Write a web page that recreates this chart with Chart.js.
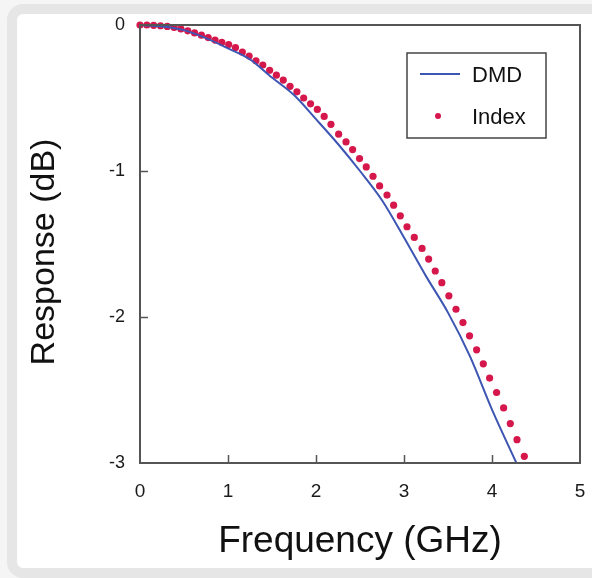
<!DOCTYPE html>
<html>
<head>
<meta charset="utf-8">
<script src="https://cdn.jsdelivr.net/npm/chart.js@4.4.0/dist/chart.umd.min.js"></script>
<style>
html, body { margin:0; padding:0; width:592px; height:578px; overflow:hidden; background:#f5f5f5; }
.card { position:absolute; left:7px; top:4px; width:600px; height:554px; border:10px solid #e6e6e6; border-radius:16px; background:#fff; }
#wrap { position:absolute; left:0; top:0; width:592px; height:578px; }
</style>
</head>
<body>
<div class="card"></div>
<div id="wrap"><canvas id="myChart" width="592" height="578"></canvas></div>
<script>
// ---------------------------------------------------------
// data
const dmdFreq = [0, 0.25, 0.5, 0.75, 1.0, 1.25, 1.5, 1.75, 2.0, 2.25, 2.5, 2.75, 3.0, 3.25, 3.5, 3.75, 4.0, 4.277]
const dmdResp = [0, -0.01, -0.035, -0.09, -0.16, -0.235, -0.36, -0.48, -0.645, -0.815, -1.0, -1.2, -1.455, -1.72, -1.97, -2.27, -2.635, -3.0]

const indexFreq = [0, 0.078, 0.155, 0.233, 0.31, 0.388, 0.465, 0.543, 0.62, 0.698, 0.775, 0.853, 0.93, 1.008, 1.085,
    1.163, 1.24, 1.318, 1.395, 1.473, 1.55, 1.628, 1.705, 1.783, 1.86, 1.938, 2.015, 2.093, 2.17, 2.257, 2.341,
    2.416, 2.495, 2.571, 2.648, 2.723, 2.807, 2.882, 2.958, 3.034, 3.117, 3.205, 3.28, 3.355, 3.43, 3.51, 3.591,
    3.67, 3.745, 3.825, 3.901, 3.973, 4.052, 4.132, 4.208, 4.284, 4.367]
const indexResp = [0, 0, -0.002, -0.005, -0.01, -0.017, -0.027, -0.04, -0.054, -0.07, -0.086, -0.103, -0.119, -0.134, -0.154,
    -0.185, -0.213, -0.245, -0.274, -0.31, -0.344, -0.377, -0.42, -0.458, -0.5, -0.54, -0.578, -0.626, -0.68, -0.748, -0.801,
    -0.853, -0.915, -0.972, -1.036, -1.102, -1.165, -1.234, -1.307, -1.382, -1.455, -1.53, -1.603, -1.685, -1.765, -1.855, -1.947,
    -2.038, -2.129, -2.225, -2.321, -2.418, -2.517, -2.623, -2.73, -2.84, -2.954]

const xTicks = [0, 1, 2, 3, 4, 5]
const yTicks = [0, -1, -2, -3]
const xInnerTicks = [1, 2, 3, 4]
const yInnerTicks = [-1, -2]
const seriesNames = ['DMD', 'Index']
const xTitle = 'Frequency (GHz)'
const yTitle = 'Response (dB)'

// ---------------------------------------------------------
const FONT = '"Liberation Sans", Arial, Helvetica, sans-serif'
const FRAME = '#555555'
Chart.defaults.font.family = FONT
Chart.defaults.color = '#1a1a1a'

function toPoints(xs, ys) {
    return xs.map((x, i) => ({ x: x, y: ys[i] }))
}

// frame box + inward ticks
const framePlugin = {
    id: 'frame',
    afterDraw(chart) {
        const ctx = chart.ctx
        const a = chart.chartArea
        const xs = chart.scales.x
        const ys = chart.scales.y
        ctx.save()
        ctx.strokeStyle = FRAME
        ctx.lineWidth = 2
        ctx.strokeRect(a.left, a.top, a.right - a.left, a.bottom - a.top)
        ctx.lineWidth = 1.5
        ctx.beginPath()
        xInnerTicks.forEach(v => {
            const px = Math.round(xs.getPixelForValue(v)) + 0.5
            ctx.moveTo(px, a.bottom)
            ctx.lineTo(px, a.bottom - 8)
        })
        yInnerTicks.forEach(v => {
            const py = Math.round(ys.getPixelForValue(v)) + 0.5
            ctx.moveTo(a.left, py)
            ctx.lineTo(a.left + 8, py)
        })
        ctx.stroke()
        ctx.restore()
    }
}

// axis titles
const titlePlugin = {
    id: 'titles',
    afterDraw(chart) {
        const ctx = chart.ctx
        const a = chart.chartArea
        ctx.save()
        ctx.fillStyle = '#111'
        ctx.textAlign = 'center'
        ctx.textBaseline = 'alphabetic'
        ctx.font = '37px ' + FONT
        ctx.fillText(xTitle, (a.left + a.right) / 2, 552)
        ctx.translate(54, (a.top + a.bottom) / 2 + 8)
        ctx.rotate(-Math.PI / 2)
        ctx.font = '34px ' + FONT
        ctx.fillText(yTitle, 0, 0)
        ctx.restore()
    }
}

// boxed legend inside the plot
const legendPlugin = {
    id: 'boxLegend',
    afterDraw(chart) {
        const ctx = chart.ctx
        const a = chart.chartArea
        const ds = chart.data.datasets
        const bx = a.right - 173, by = a.top + 28, bw = 139, bh = 85
        ctx.save()
        ctx.fillStyle = '#fff'
        ctx.fillRect(bx, by, bw, bh)
        ctx.strokeStyle = '#444'
        ctx.lineWidth = 1.5
        ctx.strokeRect(bx, by, bw, bh)
        // DMD line
        ctx.strokeStyle = ds[0].borderColor
        ctx.lineWidth = ds[0].borderWidth
        ctx.beginPath()
        ctx.moveTo(bx + 13, by + 21)
        ctx.lineTo(bx + 53, by + 21)
        ctx.stroke()
        // Index dot
        ctx.fillStyle = ds[1].backgroundColor
        ctx.beginPath()
        ctx.arc(bx + 31, by + 63, 3, 0, Math.PI * 2)
        ctx.fill()
        ctx.fillStyle = '#111'
        ctx.font = '22px ' + FONT
        ctx.textAlign = 'left'
        ctx.textBaseline = 'alphabetic'
        ctx.fillText(ds[0].label, bx + 65, by + 29)
        ctx.fillText(ds[1].label, bx + 65, by + 71)
        ctx.restore()
    }
}

const data = {
    datasets: [{
        label: seriesNames[0],
        data: toPoints(dmdFreq, dmdResp),
        borderColor: '#3d55b3',
        backgroundColor: '#3d55b3',
        borderWidth: 2,
        pointRadius: 0,
        showLine: true,
        cubicInterpolationMode: 'monotone',
        clip: false
    }, {
        label: seriesNames[1],
        data: toPoints(indexFreq, indexResp),
        backgroundColor: '#d5174b',
        borderColor: '#d5174b',
        borderWidth: 0,
        pointRadius: 3.6,
        showLine: false,
        clip: false
    }]
}

const config = {
    type: 'scatter',
    data: data,
    options: {
        responsive: false,
        animation: false,
        events: [],
        layout: { padding: { top: 25, right: 12, left: 0, bottom: 0 } },
        plugins: { legend: { display: false }, tooltip: { enabled: false } },
        scales: {
            x: {
                type: 'linear',
                min: 0,
                max: 5,
                afterBuildTicks: s => { s.ticks = xTicks.map(v => ({ value: v })) },
                afterFit: s => { s.height = 115; s.paddingLeft = 0; s.paddingRight = 0 },
                grid: { display: true, drawOnChartArea: false, drawTicks: false },
                border: { display: false },
                ticks: { padding: 17, font: { size: 19 }, color: '#1a1a1a', maxRotation: 0 }
            },
            y: {
                type: 'linear',
                min: -3,
                max: 0,
                afterBuildTicks: s => { s.ticks = yTicks.map(v => ({ value: v })) },
                afterFit: s => { s.width = 140; s.paddingTop = 0; s.paddingBottom = 0 },
                grid: { display: true, drawOnChartArea: false, drawTicks: false },
                border: { display: false },
                ticks: { padding: 15, font: { size: 18 }, color: '#1a1a1a' }
            }
        }
    },
    plugins: [framePlugin, titlePlugin, legendPlugin]
}

const myChart = new Chart(document.getElementById('myChart'), config)
</script>
</body>
</html>
